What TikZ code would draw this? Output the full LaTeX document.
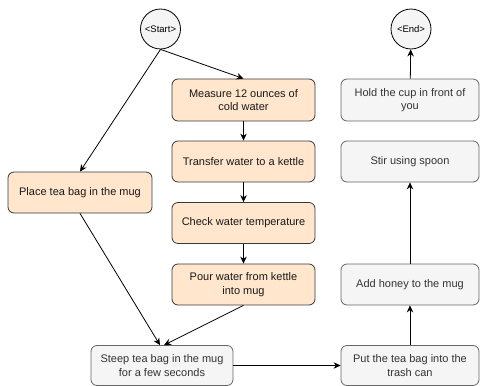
\documentclass[tikz,border=0pt]{standalone}
\usepackage{fontspec}
\setmainfont{Liberation Sans}
\usetikzlibrary{arrows.meta}
\definecolor{orfill}{HTML}{FFE6CC}
\definecolor{orline}{HTML}{36393D}
\definecolor{grfill}{HTML}{F5F5F5}
\definecolor{grline}{HTML}{666666}
\definecolor{grtext}{HTML}{333333}
\begin{document}
\begin{tikzpicture}[x=1pt,y=-1pt,
  base/.style={rectangle,rounded corners=6pt,line width=0.8pt,align=center,
    font=\fontsize{11}{13.5}\selectfont,inner sep=0pt},
  orbox/.style={base,fill=orfill,draw=orline,text=black!90},
  grbox/.style={base,fill=grfill,draw=grline,text=grtext},
  term/.style={circle,draw=black,fill=grfill,line width=0.8pt,minimum size=40pt,
    inner sep=0pt,font=\fontsize{9.5}{11}\selectfont,text=black},
  arr/.style={-{Stealth[length=7pt,width=6.5pt]},line width=0.8pt,black}]
\useasboundingbox (0,0) rectangle (480,386);
\node[term] (start) at (160.5,29) {<Start>};
\node[term] (endn) at (411,29) {<End>};
\node[orbox,minimum width=143pt,minimum height=42pt] (measure) at (243.5,100) {Measure 12 ounces of\\cold water};
\node[orbox,minimum width=143pt,minimum height=41pt] (transfer) at (243.5,161.5) {Transfer water to a kettle};
\node[orbox,minimum width=143pt,minimum height=41pt] (check) at (243.5,223) {Check water temperature};
\node[orbox,minimum width=143pt,minimum height=41pt] (pour) at (243.5,284.5) {Pour water from kettle\\into mug};
\node[orbox,minimum width=144pt,minimum height=41pt] (place) at (80,192.5) {Place tea bag in the mug};
\node[grbox,minimum width=142pt,minimum height=40pt] (steep) at (162,365.5) {Steep tea bag in the mug\\for a few seconds};
\node[grbox,minimum width=138pt,minimum height=42pt] (hold) at (410,100) {Hold the cup in front of\\you};
\node[grbox,minimum width=138pt,minimum height=41pt] (stir) at (410,161.5) {Stir using spoon};
\node[grbox,minimum width=138pt,minimum height=41pt] (honey) at (410,284.5) {Add honey to the mug};
\node[grbox,minimum width=138pt,minimum height=40pt] (put) at (410,365.5) {Put the tea bag into the\\trash can};
\draw[arr] (start.south) -- (measure.north);
\draw[arr] (start.south) -- (place.north);
\draw[arr] (measure) -- (transfer);
\draw[arr] (transfer) -- (check);
\draw[arr] (check) -- (pour);
\draw[arr] (place.south) -- ([xshift=-2pt]steep.north);
\draw[arr] (pour.south) -- ([xshift=2pt]steep.north);
\draw[arr] (steep) -- (put);
\draw[arr] (put) -- (honey);
\draw[arr] (honey) -- (stir);
\draw[arr] (hold) -- (endn);
\end{tikzpicture}
\end{document}
